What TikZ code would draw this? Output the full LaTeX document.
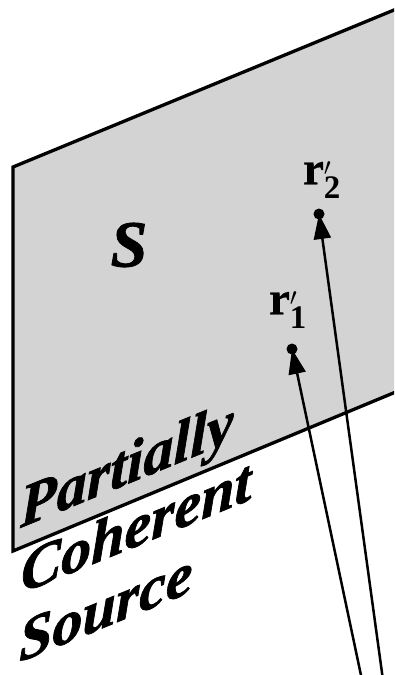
\documentclass[tikz,border=0pt]{standalone}
\usepackage{fontspec}
\setmainfont{Liberation Serif}
\newfontfamily\heavyfont[BoldItalicFeatures={FakeBold=1.2},BoldFeatures={FakeBold=0.6}]{Liberation Serif}
\usetikzlibrary{arrows.meta}
\definecolor{plane}{RGB}{211,211,211}
\begin{document}
\begin{tikzpicture}[x=1pt,y=-1pt,
  edge/.style={line width=3.3pt,line join=miter},
  arr/.style={line width=2.5pt,-{Triangle[length=25pt,width=17pt]}},
  dot/.style={circle,fill=black,inner sep=0pt,minimum size=11pt},
  rlab/.style={font=\fontsize{47}{50}\selectfont\heavyfont\bfseries,inner sep=0pt},
  big/.style={font=\fontsize{60}{64}\selectfont\heavyfont\bfseries\itshape,inner sep=0pt,anchor=base west,transform shape}]
\useasboundingbox (0,0) rectangle (394,675);
\clip (0,0) rectangle (394,675);
\coordinate (tl) at (13,167);
\coordinate (bl) at (13,551);
\coordinate (tr) at (420,-0.7);
\coordinate (br) at (420,381.9);
\fill[plane] (tl) -- (tr) -- (br) -- (bl) -- cycle;
\draw[edge] (tr) -- (tl) -- (bl) -- (br);
\node[font=\fontsize{66}{70}\selectfont\heavyfont\bfseries\itshape,inner sep=0pt] (S) at (129,245) {S};
\node[rlab] (l2) at (322,180) {r$'_{\mathbf{2}}$};
\node[rlab] (l1) at (288,310) {r$'_{\mathbf{1}}$};
\coordinate (p2) at (319,214);
\coordinate (p1) at (292,349);
\coordinate (s1) at (362,680);
\coordinate (s2) at (383,680);
\draw[arr] (s1) -- (p1);
\draw[arr] (s2) -- (p2);
\node[dot] (d2) at (p2) {};
\node[dot] (d1) at (p1) {};
\begin{scope}[shift={(20,528)},yslant=0.41]
\node[big] (p) at (0,0) {Partially};
\node[big] (c) at (1,66) {Coherent};
\node[big] (so) at (-1,134) {Source};
\end{scope}
\end{tikzpicture}
\end{document}
